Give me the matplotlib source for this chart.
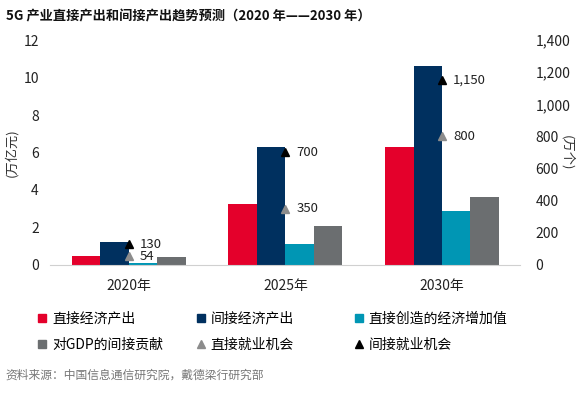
import numpy as np
import matplotlib
matplotlib.use("Agg")
from matplotlib import pyplot as plt
from matplotlib.lines import Line2D

plt.rcParams['font.family'] = ['Noto Sans CJK SC', 'DejaVu Sans']

years = ["2020年", "2025年", "2030年"]
direct_output = [0.5, 3.25, 6.3]
indirect_output = [1.2, 6.3, 10.6]
direct_value_added = [0.1, 1.1, 2.9]
indirect_gdp = [0.4, 2.1, 3.6]
direct_jobs = [54, 350, 800]
indirect_jobs = [130, 700, 1150]

series_names = ["直接经济产出", "间接经济产出", "直接创造的经济增加值", "对GDP的间接贡献"]
series_colors = ["#E4002B", "#00305F", "#0096B4", "#6B6E70"]
job_names = ["直接就业机会", "间接就业机会"]
job_colors = ["#8C8C8C", "#000000"]

fig = plt.figure(figsize=(5.8, 3.93), dpi=100)
ax = fig.add_axes([0.086, 0.326, 0.811, 0.572])
ax2 = ax.twinx()

x = np.arange(len(years))
w = 0.182
bars = [direct_output, indirect_output, direct_value_added, indirect_gdp]
for i, (vals, c) in enumerate(zip(bars, series_colors)):
    ax.bar(x + (i - 1.5) * w, vals, width=w, color=c, zorder=2)

ax.set_xlim(-0.505, 2.5)
ax.set_ylim(0, 12)
ax.set_yticks(range(0, 13, 2))
ax.set_xticks(x)
ax.set_xticklabels(years, fontsize=10, color="#222222")
ax.tick_params(axis='both', length=0, labelsize=10, colors="#222222")
ax.tick_params(axis='y', pad=8)
ax.tick_params(axis='x', pad=10)
for s in ["top", "right", "left"]:
    ax.spines[s].set_visible(False)
ax.spines["bottom"].set_color("#D0D0D0")
ax.set_ylabel("(万亿元)", fontsize=9.5, color="#333333")
ax.yaxis.set_label_coords(-0.068, 0.5)

ax2.set_ylim(0, 1400)
ax2.set_yticks(range(0, 1401, 200))
ax2.yaxis.set_major_formatter(matplotlib.ticker.FuncFormatter(lambda v, p: f"{int(v):,}"))
ax2.tick_params(axis='y', length=0, labelsize=10, colors="#222222", pad=11)
for s in ["top", "right", "left", "bottom"]:
    ax2.spines[s].set_visible(False)
ax2.set_ylabel("(万个)", fontsize=9.5, color="#333333", rotation=270, va='center')
ax2.yaxis.set_label_coords(1.1, 0.5)

for vals, c in zip([direct_jobs, indirect_jobs], job_colors):
    ax2.plot(x, vals, linestyle='none', marker='^', markersize=6, color=c, zorder=3)
    for xi, v in zip(x, vals):
        ax2.annotate(f"{v:,}", (xi, v), xytext=(8, 0), textcoords='offset points',
                     va='center', ha='left', fontsize=9.5, color="#222222")

# legend, three columns
handles = [Line2D([], [], linestyle='none', marker='s', markersize=6, color=c) for c in series_colors]
handles += [Line2D([], [], linestyle='none', marker='^', markersize=6, color=c) for c in job_colors]
labels = series_names + job_names
col_x = [0.066, 0.339, 0.611]
order = [(0, 3), (1, 4), (2, 5)]
for cx, (a, b) in zip(col_x, order):
    fig.legend([handles[a], handles[b]], [labels[a], labels[b]], loc='upper left',
               bbox_to_anchor=(cx, 0.207), frameon=False, fontsize=10,
               handlelength=0.6, handletextpad=0.4, labelspacing=0.85,
               borderaxespad=0, borderpad=0)

fig.text(0.01, 0.975, "5G 产业直接产出和间接产出趋势预测（2020 年——2030 年）",
         fontsize=9.5, fontweight='bold', color="#111111", va='top')
fig.text(0.01, 0.03, "资料来源：中国信息通信研究院，戴德梁行研究部",
         fontsize=8.5, color="#777777", va='bottom')

fig.savefig("out.png", dpi=100)
